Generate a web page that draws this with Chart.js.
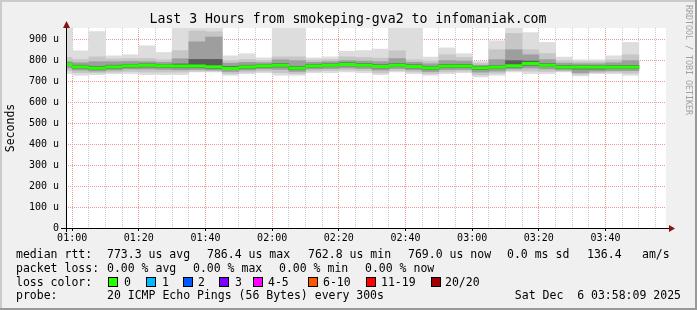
<!DOCTYPE html>
<html><head><meta charset="utf-8">
<script src="https://cdn.jsdelivr.net/npm/chart.js@4.4.1/dist/chart.umd.min.js"></script>
<style>html,body{margin:0;padding:0;background:#f0f0f0;overflow:hidden}canvas{display:block}</style>
</head><body>
<canvas id="c" width="697" height="310"></canvas>
<script>
// ---- data ----
const graphStart = '00:58:09';
const graphEnd   = '03:58:09';
const slotStarts = ['00:55','01:00','01:05','01:10','01:15','01:20','01:25','01:30','01:35','01:40',
  '01:45','01:50','01:55','02:00','02:05','02:10','02:15','02:20','02:25','02:30',
  '02:35','02:40','02:45','02:50','02:55','03:00','03:05','03:10','03:15','03:20',
  '03:25','03:30','03:35','03:40','03:45'];
// round-trip times in microseconds
const rttMax    = [965,847,939,823,828,871,839,965,965,965,823,833,813,965,965,813,818,845,848,855,965,965,817,861,833,796,895,965,934,887,817,804,804,823,887];
const smokeHi1  = [815,805,818,808,810,810,804,848,942,938,800,805,800,818,818,803,805,818,815,812,847,804,798,828,815,788,852,930,852,834,800,795,795,803,828];
const smokeHi2  = [795,790,795,795,796,795,792,809,890,913,788,792,790,804,800,792,795,800,798,795,810,792,785,800,798,778,805,852,828,805,788,785,785,790,800];
const smokeHi3  = [788,778,772,778,782,785,782,784,806,806,772,778,782,786,772,781,785,790,786,780,786,780,772,782,782,772,776,800,798,786,777,776,776,777,777];
const medianRtt = [782,770,764,770,775,778,775,774,774,770,762.8,770,775,778,764,774,778,782,778,772,778,772,765,774,774,765,769,775,786.4,778,769,769,769,769,769.0];
const smokeLo3  = [776,764,758,763,768,770,768,766,766,762,757,763,768,770,757,767,771,775,771,765,771,765,758,767,767,757,762,768,778,771,762,760,760,762,762];
const smokeLo2  = [765,755,750,755,760,760,758,756,758,755,748,755,760,758,748,760,762,765,762,755,762,756,748,757,758,745,750,760,765,760,755,742,750,752,752];
const smokeLo1  = [752,742,742,745,748,745,745,745,750,750,738,745,750,742,738,750,752,755,752,742,752,746,738,746,750,732,740,752,750,748,750,735,742,745,740];
const rttMin    = [738,730,733,738,738,733,733,733,746,746,730,738,742,730,730,742,742,746,742,733,746,738,730,738,742,722,730,746,738,738,746,727,738,738,730];
const xMajorTicks = ['01:00','01:20','01:40','02:00','02:20','02:40','03:00','03:20','03:40'];
const yTickLabels = ['0','100 u','200 u','300 u','400 u','500 u','600 u','700 u','800 u','900 u'];
const yMax = 956;

const lossLabels = ['0','1','2','3','4-5','6-10','11-19','20/20'];
const lossColors = ['#26ff00','#00b8ff','#0059ff','#7e00ff','#ff00ff','#ff5500','#ff0000','#a00000'];

// ---- helpers ----
const MONO = '"DejaVu Sans Mono"';
const toMin = s => { const p = s.split(':').map(Number); return p[0]*60 + p[1] + (p[2]||0)/60; };
const xMin = toMin(graphStart), xMax = toMin(graphEnd);
const centers = slotStarts.map(s => toMin(s) + 2.5);
const band = (lo, hi) => centers.map((x, i) => ({x, y: [lo[i], hi[i]]}));
const MEDIAN_HALF = 6;
const medianBand = centers.map((x, i) => ({x, y: [medianRtt[i] - MEDIAN_HALF, medianRtt[i] + MEDIAN_HALF]}));
const majorMin = xMajorTicks.map(toMin);
const xGrid = []; for (let m = Math.ceil(xMin/5)*5; m <= xMax; m += 5) xGrid.push(m);
const yGrid = []; for (let v = 0; v <= yMax; v += 50) yGrid.push(v);
const RED = '#f29a9a', GREY = '#c8c8c8';
const isMajorX = v => majorMin.some(m => Math.abs(m - v) < 0.01);

const common = {type: 'bar', grouped: false, barPercentage: 1, categoryPercentage: 1, borderWidth: 0, clip: 0};
const datasets = [
  Object.assign({data: medianBand, backgroundColor: '#26ff00', order: 0}, common),
  Object.assign({data: band(smokeLo3, smokeHi3), backgroundColor: '#5c5c5c', order: 1}, common),
  Object.assign({data: band(smokeLo2, smokeHi2), backgroundColor: '#9e9e9e', order: 2}, common),
  Object.assign({data: band(smokeLo1, smokeHi1), backgroundColor: '#c6c6c6', order: 3}, common),
  Object.assign({data: band(rttMin, rttMax), backgroundColor: '#dddddd', order: 4}, common)
];

const decor = {
  id: 'decor',
  beforeDraw(chart) {
    const ctx = chart.ctx, a = chart.chartArea;
    ctx.save();
    ctx.fillStyle = '#f0f0f0'; ctx.fillRect(0, 0, chart.width, chart.height);
    ctx.fillStyle = '#ffffff'; ctx.fillRect(a.left, a.top, a.right - a.left, a.bottom - a.top);
    ctx.restore();
  },
  afterDraw(chart) {
    const ctx = chart.ctx, a = chart.chartArea, xs = chart.scales.x;
    ctx.save();
    // axes
    ctx.strokeStyle = '#000'; ctx.lineWidth = 1;
    ctx.beginPath();
    ctx.moveTo(a.left - 5, a.bottom + 0.5); ctx.lineTo(a.right + 3, a.bottom + 0.5);
    ctx.moveTo(a.left + 0.5, a.bottom + 4); ctx.lineTo(a.left + 0.5, a.top - 3);
    majorMin.forEach(m => { const px = Math.round(xs.getPixelForValue(m) - 0.5) + 0.5; ctx.moveTo(px, a.bottom); ctx.lineTo(px, a.bottom + 3); });
    ctx.stroke();
    ctx.fillStyle = '#8a1010';
    ctx.beginPath(); ctx.moveTo(a.left + 0.5, a.top - 7); ctx.lineTo(a.left + 4, a.top); ctx.lineTo(a.left - 3, a.top); ctx.closePath(); ctx.fill();
    ctx.beginPath(); ctx.moveTo(a.right + 9, a.bottom + 0.5); ctx.lineTo(a.right + 3, a.bottom - 3); ctx.lineTo(a.right + 3, a.bottom + 4); ctx.closePath(); ctx.fill();
    // title
    ctx.fillStyle = '#000';
    ctx.font = '13.2px ' + MONO; ctx.textAlign = 'center'; ctx.textBaseline = 'alphabetic';
    ctx.fillText('Last 3 Hours from smokeping-gva2 to infomaniak.com', 348, 22.5);
    // legend
    ctx.font = '11.5px ' + MONO; ctx.textAlign = 'left';
    const t = (s, x, y) => ctx.fillText(s, x, y);
    const y1 = 258.3, y2 = 271.8, y3 = 285.5, y4 = 299.2;
    t('median rtt:', 16, y1); t('773.3 us avg', 107, y1); t('786.4 us max', 207, y1); t('762.8 us min', 308, y1);
    t('769.0 us now', 408, y1); t('0.0 ms sd', 507, y1); t('136.4', 587, y1); t('am/s', 642, y1);
    t('packet loss:', 16, y2); t('0.00 % avg', 107, y2); t('0.00 % max', 193, y2); t('0.00 % min', 279, y2); t('0.00 % now', 365, y2);
    t('loss color:', 16, y3);
    const boxX = [108, 146, 183, 219, 253, 308, 366, 431];
    const labX = [124, 162, 198, 235, 268, 323, 381, 445];
    lossLabels.forEach((l, i) => {
      ctx.fillStyle = lossColors[i]; ctx.fillRect(boxX[i] + 0.5, 277.5, 9, 9);
      ctx.strokeStyle = '#000'; ctx.lineWidth = 1; ctx.strokeRect(boxX[i] + 0.5, 277.5, 9, 9);
      ctx.fillStyle = '#000'; t(l, labX[i], y3);
    });
    t('probe:', 16, y4); t('20 ICMP Echo Pings (56 Bytes) every 300s', 107, y4);
    ctx.textAlign = 'right'; t('Sat Dec  6 03:58:09 2025', 681, y4);
    // watermark
    ctx.save();
    ctx.translate(688, 5); ctx.rotate(Math.PI / 2);
    ctx.font = '8.3px ' + MONO; ctx.textAlign = 'left'; ctx.textBaseline = 'middle'; ctx.fillStyle = '#a0a0a0';
    ctx.fillText('RRDTOOL / TOBI OETIKER', 0, 0);
    ctx.restore();
    // frame
    ctx.fillStyle = '#cbcbcb'; ctx.fillRect(0, 0, chart.width, 2); ctx.fillRect(0, 0, 2, chart.height);
    ctx.fillStyle = '#999999'; ctx.fillRect(chart.width - 2, 0, 2, chart.height); ctx.fillRect(0, chart.height - 2, chart.width, 2);
    ctx.restore();
  }
};

new Chart(document.getElementById('c'), {
  type: 'bar',
  data: {datasets},
  plugins: [decor],
  options: {
    responsive: false, animation: false, events: [], devicePixelRatio: 1,
    layout: {padding: {left: 0, right: 31, top: 28, bottom: 0}},
    plugins: {legend: {display: false}, tooltip: {enabled: false}, title: {display: false}},
    scales: {
      x: {
        type: 'linear', min: xMin, max: xMax, offset: false, z: 1,
        grid: {offset: false, drawTicks: false, lineWidth: 1,
          color: c => isMajorX(c.tick.value) ? RED : GREY},
        border: {display: false, dash: [1, 1]},
        ticks: {autoSkip: false, maxRotation: 0, minRotation: 0, padding: 4, color: '#000',
          font: {family: MONO, size: 10},
          callback: v => { const i = majorMin.findIndex(m => Math.abs(m - v) < 0.01); return i >= 0 ? xMajorTicks[i] : ''; }},
        afterBuildTicks: s => { s.ticks = xGrid.map(v => ({value: v})); },
        afterFit: s => { s.height = 82; }
      },
      y: {
        type: 'linear', min: 0, max: yMax, z: 1,
        grid: {drawTicks: false, lineWidth: 1,
          color: c => c.tick.value === 0 ? 'rgba(0,0,0,0)' : (c.tick.value % 100 === 0 ? RED : GREY)},
        border: {display: false, dash: [1, 1]},
        ticks: {padding: 7, color: '#000', font: {family: MONO, size: 10},
          callback: v => v % 100 === 0 ? yTickLabels[v / 100] : ''},
        title: {display: true, text: 'Seconds', color: '#000', font: {family: MONO, size: 11.5}, padding: {top: 4, bottom: 0}},
        afterBuildTicks: s => { s.ticks = yGrid.map(v => ({value: v})); },
        afterFit: s => { s.width = 66; }
      }
    }
  }
});
</script>
</body></html>
